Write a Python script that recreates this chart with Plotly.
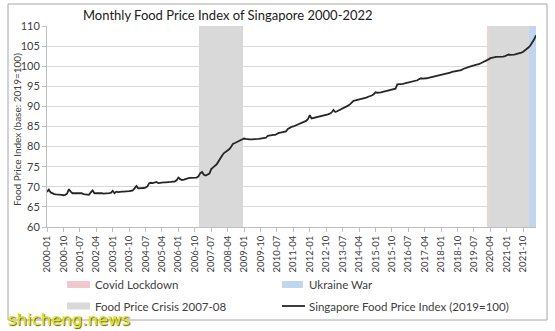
import plotly.graph_objects as go

# ---------------- data ----------------
years = list(range(2000, 2023))
categories = [f"{y}-{m:02d}" for y in years for m in range(1, 13)][:269]  # 2000-01 .. 2022-05

fpi_2000 = [68.7, 69.3, 68.6, 68.3, 68.2, 68.1, 68.1, 68.0, 68.0, 67.9, 68.0, 68.3]
fpi_2001 = [69.4, 68.8, 68.4, 68.4, 68.4, 68.4, 68.3, 68.4, 68.2, 68.1, 68.1, 68.0]
fpi_2002 = [68.6, 69.1, 68.4, 68.4, 68.5, 68.4, 68.4, 68.3, 68.3, 68.3, 68.4, 68.5]
fpi_2003 = [69.0, 68.4, 68.8, 68.7, 68.8, 68.8, 68.8, 68.8, 68.8, 68.9, 69.0, 69.1]
fpi_2004 = [69.6, 70.2, 69.6, 69.6, 69.7, 69.7, 69.8, 70.1, 70.9, 71.0, 70.9, 71.0]
fpi_2005 = [71.2, 70.9, 71.0, 71.0, 71.1, 71.1, 71.1, 71.2, 71.2, 71.3, 71.3, 71.6]
fpi_2006 = [72.3, 71.9, 71.7, 71.8, 72.0, 72.1, 72.2, 72.2, 72.2, 72.2, 72.3, 72.6]
fpi_2007 = [73.4, 73.7, 73.0, 72.8, 73.1, 73.3, 74.4, 74.9, 75.2, 75.6, 76.4, 77.2]
fpi_2008 = [77.8, 78.4, 78.7, 79.0, 79.4, 80.0, 80.7, 80.9, 81.1, 81.2, 81.4, 81.6]
fpi_2009 = [82.0, 81.9, 81.8, 81.8, 81.8, 81.8, 81.8, 81.9, 81.9, 82.0, 82.1, 82.2]
fpi_2010 = [82.2, 82.7, 82.8, 82.9, 82.9, 82.9, 83.2, 83.4, 83.5, 83.6, 83.7, 83.8]
fpi_2011 = [84.4, 84.7, 84.9, 85.0, 85.2, 85.3, 85.5, 85.7, 85.9, 86.1, 86.4, 86.8]
fpi_2012 = [87.8, 87.0, 87.1, 87.2, 87.3, 87.4, 87.5, 87.6, 87.7, 87.8, 88.0, 88.2]
fpi_2013 = [88.5, 89.1, 88.6, 88.8, 89.0, 89.3, 89.5, 89.7, 89.9, 90.2, 90.5, 90.9]
fpi_2014 = [91.4, 91.5, 91.6, 91.7, 91.8, 91.9, 92.1, 92.2, 92.4, 92.5, 92.7, 93.0]
fpi_2015 = [93.5, 93.4, 93.4, 93.5, 93.6, 93.7, 93.8, 94.0, 94.1, 94.2, 94.2, 94.4]
fpi_2016 = [95.5, 95.5, 95.6, 95.6, 95.7, 95.8, 95.9, 96.0, 96.2, 96.3, 96.4, 96.5]
fpi_2017 = [96.8, 97.0, 96.9, 96.9, 97.0, 97.1, 97.2, 97.3, 97.4, 97.5, 97.6, 97.7]
fpi_2018 = [97.8, 97.9, 98.0, 98.2, 98.3, 98.4, 98.6, 98.7, 98.8, 98.9, 99.0, 99.0]
fpi_2019 = [99.3, 99.5, 99.7, 99.9, 100.0, 100.1, 100.2, 100.3, 100.4, 100.6, 100.8, 101.0]
fpi_2020 = [101.2, 101.4, 101.7, 102.0, 102.2, 102.2, 102.3, 102.3, 102.3, 102.4, 102.4, 102.5]
fpi_2021 = [102.7, 102.9, 102.8, 102.8, 102.9, 103.0, 103.1, 103.3, 103.4, 103.6, 103.9, 104.3]
fpi_2022 = [104.7, 105.2, 105.8, 106.7, 107.7]

fpi = (fpi_2000 + fpi_2001 + fpi_2002 + fpi_2003 + fpi_2004 + fpi_2005 + fpi_2006
       + fpi_2007 + fpi_2008 + fpi_2009 + fpi_2010 + fpi_2011 + fpi_2012 + fpi_2013
       + fpi_2014 + fpi_2015 + fpi_2016 + fpi_2017 + fpi_2018 + fpi_2019 + fpi_2020
       + fpi_2021 + fpi_2022)

crisis_period = ("2007-01", "2008-12")
covid_period = ("2020-03", "2022-01")
ukraine_period = ("2022-02", "2022-05")
shade_value = 110

tick_labels = categories[::9]

series_names = ["Covid Lockdown", "Ukraine War", "Food Price Crisis 2007-08",
                "Singapore Food Price Index (2019=100)"]
title_text = "Monthly Food Price Index of Singapore 2000-2022"
y_title = "Food Price Index (base: 2019=100)"

# ---------------- style ----------------
FONT = "Lato"
TXT = "#404040"
GREY = "#d9d9d9"
PINK = "#f0c8cd"
PINK_STRIP = "#ecd3d6"
BLUE = "#c0d6ee"
LINE = "#262626"

W, H = 555, 331
L, R, T, B = 47, 19, 26, 104
PW, PH = W - L - R, H - T - B


def px2x(px):
    return (px - L) / PW


def py2y(py):
    return 1 - (py - T) / PH


def period(p):
    i0, i1 = categories.index(p[0]), categories.index(p[1])
    return categories[i0:i1 + 1]


crisis_x = period(crisis_period)
covid_x = period(covid_period)
ukraine_x = period(ukraine_period)

fig = go.Figure()
fig.add_bar(x=crisis_x, y=[shade_value] * len(crisis_x), marker_color=GREY,
            marker_line_width=0, name=series_names[2])
fig.add_bar(x=covid_x, y=[shade_value] * len(covid_x),
            marker_color=[PINK_STRIP] + [GREY] * (len(covid_x) - 1),
            marker_line_width=0, name=series_names[0])
fig.add_bar(x=ukraine_x, y=[shade_value] * len(ukraine_x), marker_color=BLUE,
            marker_line_width=0, name=series_names[1])
fig.add_scatter(x=categories, y=fpi, mode="lines", line=dict(color=LINE, width=1.8),
                name=series_names[3])

fig.update_layout(
    width=W, height=H, margin=dict(l=L, r=R, t=T, b=B),
    paper_bgcolor="white", plot_bgcolor="white",
    showlegend=False, barmode="overlay", bargap=0,
    font=dict(family=FONT, color=TXT, size=11),
)
fig.update_xaxes(
    type="category", categoryorder="array", categoryarray=categories,
    range=[0, len(categories) - 1],
    tickmode="array", tickvals=tick_labels, ticktext=tick_labels,
    tickangle=-90, tickfont=dict(size=9.5, color=TXT),
    ticks="outside", ticklen=4, tickcolor="#bfbfbf",
    showline=True, linecolor="#bfbfbf", linewidth=1,
    showgrid=False, zeroline=False,
)
fig.update_yaxes(
    range=[60, 110], dtick=5, tickfont=dict(size=11, color=TXT),
    ticks="outside", ticklen=4, tickcolor="#bfbfbf",
    showline=True, linecolor="#bfbfbf", linewidth=1,
    showgrid=True, gridcolor="#d9d9d9", gridwidth=1, zeroline=False,
)

ann = []
ann.append(dict(text=title_text, x=px2x(228), y=py2y(15), xref="paper", yref="paper",
                showarrow=False, xanchor="center", yanchor="middle",
                font=dict(size=13, color="#202020", family=FONT)))
ann.append(dict(text=y_title, x=px2x(17), y=py2y(130), xref="paper", yref="paper",
                showarrow=False, textangle=-90, xanchor="center", yanchor="middle",
                font=dict(size=10, color=TXT, family=FONT)))

shapes = []
# outer chart border
shapes.append(dict(type="rect", xref="paper", yref="paper",
                   x0=px2x(8), x1=px2x(547), y0=py2y(320), y1=py2y(4),
                   line=dict(color="#a6a6a6", width=1), fillcolor="rgba(0,0,0,0)", layer="below"))

# manual legend
legend_items = [
    (series_names[0], "rect", PINK, 67, 90, 284.5, 93),
    (series_names[1], "rect", BLUE, 282, 303, 284.5, 307),
    (series_names[2], "rect", GREY, 67, 90, 306, 93),
    (series_names[3], "line", LINE, 282, 305, 306, 307),
]
for name, kind, col, x0, x1, yc, tx in legend_items:
    if kind == "rect":
        shapes.append(dict(type="rect", xref="paper", yref="paper",
                           x0=px2x(x0), x1=px2x(x1), y0=py2y(yc + 3.5), y1=py2y(yc - 3.5),
                           line=dict(width=0), fillcolor=col))
    else:
        shapes.append(dict(type="line", xref="paper", yref="paper",
                           x0=px2x(x0), x1=px2x(x1), y0=py2y(yc), y1=py2y(yc),
                           line=dict(color=col, width=1.8)))
    ann.append(dict(text=name, x=px2x(tx), y=py2y(yc), xref="paper", yref="paper",
                    showarrow=False, xanchor="left", yanchor="middle",
                    font=dict(size=11.5, color=TXT, family=FONT)))

# watermark
ann.append(dict(text="shicheng.news", x=px2x(6), y=py2y(319), xref="paper", yref="paper",
                showarrow=False, xanchor="left", yanchor="middle",
                font=dict(size=16.5, color="#e6e61e", family="DejaVu Sans",
                          shadow="1px 1px 1px #4a5a10")))

fig.update_layout(annotations=ann, shapes=shapes)
fig.write_html("out.html")
